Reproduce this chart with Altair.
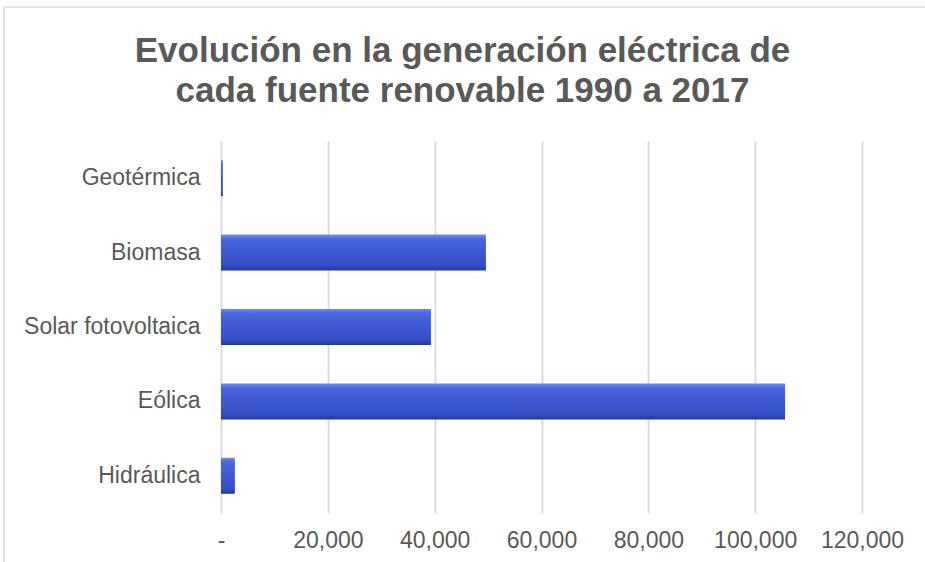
import altair as alt
import pandas as pd

fuentes = ["Geotérmica", "Biomasa", "Solar fotovoltaica", "Eólica", "Hidráulica"]
valores = [350, 49600, 39300, 105600, 2600]
ticks = [0, 20000, 40000, 60000, 80000, 100000, 120000]
titulo = ["Evolución en la generación eléctrica de", "cada fuente renovable 1990 a 2017"]

df = pd.DataFrame({"fuente": fuentes, "valor": valores})
frame_df = pd.DataFrame({"k": [0]})

gris = "#595959"
grad = alt.Gradient(
    gradient="linear",
    x1=0, x2=0, y1=0, y2=1,
    stops=[
        alt.GradientStop(color="#6f8bef", offset=0),
        alt.GradientStop(color="#4b67de", offset=0.12),
        alt.GradientStop(color="#3d57d0", offset=0.5),
        alt.GradientStop(color="#3450c4", offset=0.85),
        alt.GradientStop(color="#24379a", offset=1),
    ],
)

border_top = alt.Chart(frame_df).mark_rule(color="#d9d9d9", strokeWidth=1.5).encode(
    x=alt.value(-217), x2=alt.value(800), y=alt.value(-134),
)
border_left = alt.Chart(frame_df).mark_rule(color="#d9d9d9", strokeWidth=1.5).encode(
    x=alt.value(-217), y=alt.value(-134), y2=alt.value(500),
)

bars = alt.Chart(df).mark_bar(size=36, color=grad).encode(
    y=alt.Y("fuente:N", sort=fuentes, title=None,
            axis=alt.Axis(labelFontSize=23, labelColor=gris, labelFont="Liberation Sans",
                          ticks=False, domain=False, labelPadding=21, grid=False)),
    x=alt.X("valor:Q", title=None,
            scale=alt.Scale(domain=[0, 120000], nice=False, zero=True),
            axis=alt.Axis(values=ticks, labelFontSize=23, labelColor=gris, labelFont="Liberation Sans",
                          ticks=False, domain=False, labelPadding=16, grid=True,
                          labelOverlap=False, labelFlush=False,
                          gridColor="#d9d9d9", gridWidth=1.8,
                          labelExpr="datum.value == 0 ? '-' : format(datum.value, ',')")),
)

chart = alt.layer(border_top, border_left, bars).properties(
    width=641, height=372,
    title=alt.TitleParams(text=titulo, fontSize=35, font="Liberation Sans", fontWeight="bold",
                          color=gris, lineHeight=40, anchor="middle", frame="group", dx=-79,
                          offset=-103),
    autosize=alt.AutoSizeParams(type="none"),
    padding={"left": 221, "top": 141, "right": 63, "bottom": 49},
).configure(background="white", view=alt.ViewConfig(stroke=None))

chart.save("out.html", embed_options={"renderer": "svg", "actions": False})
